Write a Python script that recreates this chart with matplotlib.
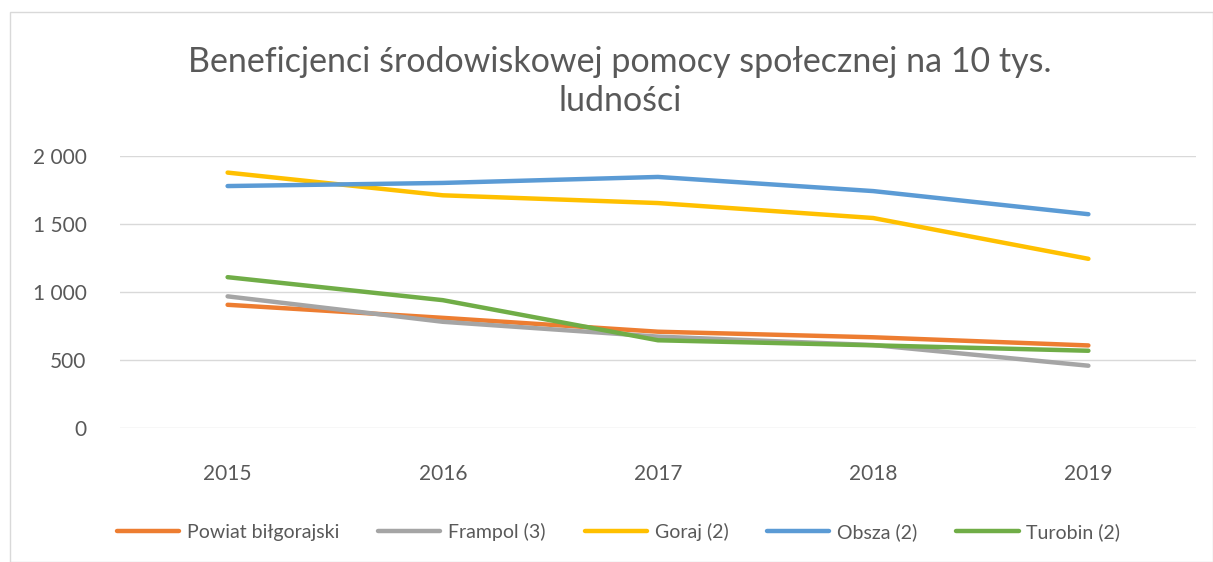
import matplotlib
matplotlib.use("Agg")
import matplotlib.pyplot as plt
from matplotlib.patches import Rectangle

years = ["2015", "2016", "2017", "2018", "2019"]
powiat = [906, 810, 708, 667, 607]
frampol = [968, 781, 672, 610, 458]
goraj = [1878, 1711, 1654, 1544, 1244]
obsza = [1779, 1802, 1846, 1742, 1572]
turobin = [1109, 940, 645, 608, 568]

series = [
    ("Powiat biłgorajski", powiat, "#ED7D31"),
    ("Frampol (3)", frampol, "#A5A5A5"),
    ("Goraj (2)", goraj, "#FFC000"),
    ("Obsza (2)", obsza, "#5B9BD5"),
    ("Turobin (2)", turobin, "#70AD47"),
]

plt.rcParams['font.family'] = ['Lato', 'DejaVu Sans']

fig = plt.figure(figsize=(12.13, 5.62), dpi=100)
fig.patches.append(Rectangle((10 / 1213, 0), 1 - 10 / 1213, 1 - 12 / 562,
                             transform=fig.transFigure, fill=False,
                             edgecolor="#D9D9D9", linewidth=1))

ax = fig.add_axes([120 / 1213, 1 - 428 / 562, (1196 - 120) / 1213, (428 - 156) / 562])
x = range(len(years))
for name, vals, col in series:
    ax.plot(x, vals, color=col, linewidth=3.2, label=name, solid_capstyle="round")

ax.set_xlim(-0.5, len(years) - 0.5)
ax.set_ylim(0, 2000)
ax.set_yticks([0, 500, 1000, 1500, 2000])
ax.set_yticklabels(["0", "500", "1 000", "1 500", "2 000"])
ax.set_xticks(list(x))
ax.set_xticklabels(years)
ax.grid(axis="y", color="#D9D9D9", linewidth=1)
ax.set_axisbelow(True)
for s in ax.spines.values():
    s.set_visible(False)
ax.tick_params(length=0, labelsize=15, labelcolor="#595959")
ax.tick_params(axis="y", pad=24)
ax.tick_params(axis="x", pad=26)

fig.text(0.511, 1 - 62 / 562, "Beneficjenci środowiskowej pomocy społecznej na 10 tys.",
         ha="center", va="center", fontsize=24.5, color="#595959")
fig.text(0.511, 1 - 101 / 562, "ludności",
         ha="center", va="center", fontsize=24.5, color="#595959")

fig.legend(loc="center", bbox_to_anchor=(0.51, 1 - 532 / 562), ncol=5, frameon=False,
           fontsize=14, labelcolor="#595959", handlelength=3.2, columnspacing=2.0,
           handletextpad=0.4)

fig.savefig("out.png", dpi=100)
